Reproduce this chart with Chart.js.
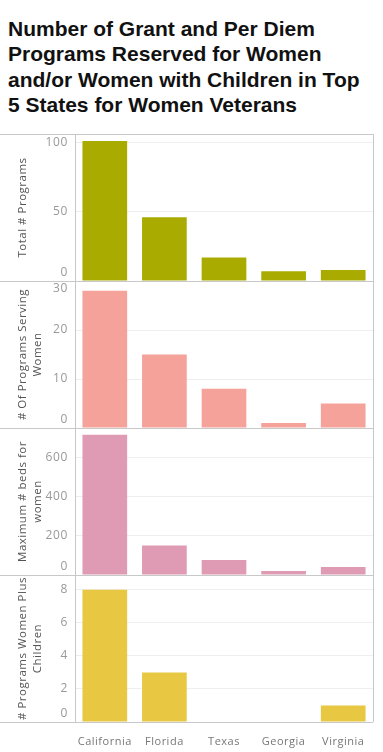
<!DOCTYPE html>
<html>
<head>
<meta charset="utf-8">
<script src="https://cdn.jsdelivr.net/npm/chart.js@4/dist/chart.umd.min.js"></script>
<style>
  html, body { margin: 0; padding: 0; background: #fff; }
  body { width: 383px; height: 752px; position: relative; overflow: hidden; }
  #title { position: absolute; left: 8px; top: 16px; font: bold 21px/25.3px "Liberation Sans", Arial, sans-serif; color: #111; }
  #wrap { position: absolute; left: 0; top: 0; width: 383px; height: 752px; }
</style>
</head>
<body>
<div id="title">Number of Grant and Per Diem<br>Programs Reserved for Women<br>and/or Women with Children in Top<br>5 States for Women Veterans</div>
<div id="wrap"><canvas id="chart"></canvas></div>
<script>
// data
const states = ['California', 'Florida', 'Texas', 'Georgia', 'Virginia'];
const totalPrograms = [101, 46, 17, 7, 8];
const womenPrograms = [28, 15, 8, 1, 5];
const maxBeds = [715, 150, 77, 20, 41];
const womenChildren = [8, 3, 0, 0, 1];

const totalTicks = [0, 50, 100];
const womenTicks = [0, 10, 20, 30];
const bedsTicks = [0, 200, 400, 600];
const childTicks = [0, 2, 4, 6, 8];

const FONT = '"Open Sans", "Noto Sans", sans-serif';
const rowIds = ['yTotal', 'yWomen', 'yBeds', 'yChild'];

// one left axis per row, stacked on top of each other
const rowAxis = (title, max, ticks, weight) => ({
  type: 'linear',
  position: 'left',
  stack: 'rows',
  stackWeight: 1,
  weight: weight,
  min: 0,
  max: max,
  afterBuildTicks: s => { s.ticks = ticks.map(v => ({ value: v })); },
  afterFit: s => { s.width = 75; },
  grid: { color: '#eeeeee', drawTicks: false },
  border: { display: false },
  ticks: { display: false },
  title: {
    display: true,
    text: title,
    color: '#555',
    font: { family: FONT, size: 11.5, lineHeight: 1.3 },
    padding: { top: 15.5, bottom: 0 }
  }
});

// frame lines + tick labels kept inside each row (like Tableau does)
const framePlugin = {
  id: 'frame',
  beforeDraw(chart) {
    chart.ctx.letterSpacing = '0.5px';
  },
  afterDatasetsDraw(chart) {
    const { ctx, chartArea } = chart;
    const rows = rowIds.map(id => chart.scales[id]).sort((a, b) => a.top - b.top);
    ctx.save();
    ctx.strokeStyle = '#c8c8c8';
    ctx.lineWidth = 1;
    ctx.beginPath();
    const ys = [rows[0].top].concat(rows.map(s => s.bottom));
    ys.forEach(y => {
      const py = Math.round(y) + 0.5;
      ctx.moveTo(0, py);
      ctx.lineTo(chartArea.right, py);
    });
    const lx = Math.round(chartArea.left) + 0.5;
    const rx = Math.round(chartArea.right) + 0.5;
    ctx.moveTo(lx, chartArea.top);
    ctx.lineTo(lx, chartArea.bottom);
    ctx.moveTo(rx, chartArea.top);
    ctx.lineTo(rx, chartArea.bottom);
    ctx.stroke();

    ctx.fillStyle = '#999';
    ctx.font = '12px ' + FONT;
    ctx.letterSpacing = '0.6px';
    ctx.textAlign = 'right';
    ctx.textBaseline = 'middle';
    rows.forEach(s => {
      s.ticks.forEach(t => {
        let y = s.getPixelForValue(t.value);
        y = Math.min(Math.max(y, s.top + 8), s.bottom - 8.5);
        ctx.fillText(String(t.value), chartArea.left - 7, y);
      });
    });
    ctx.restore();
  }
};

const barSet = (data, axis, color) => ({
  data: data,
  yAxisID: axis,
  backgroundColor: color,
  grouped: false,
  categoryPercentage: 0.75,
  barPercentage: 1
});

new Chart(document.getElementById('chart'), {
  type: 'bar',
  data: {
    labels: states,
    datasets: [
      barSet(totalPrograms, 'yTotal', '#a9ab00'),
      barSet(womenPrograms, 'yWomen', '#f5a29b'),
      barSet(maxBeds, 'yBeds', '#e09bb4'),
      barSet(womenChildren, 'yChild', '#e8c843')
    ]
  },
  options: {
    responsive: true,
    maintainAspectRatio: false,
    animation: false,
    layout: { padding: { top: 134, right: 10, left: 0, bottom: 0 } },
    plugins: { legend: { display: false }, tooltip: { enabled: false } },
    scales: {
      x: {
        type: 'category',
        position: 'bottom',
        grid: { display: false },
        border: { display: false },
        ticks: { color: '#777', font: { family: FONT, size: 11 }, padding: 5, maxRotation: 0, autoSkip: false },
        afterFit: s => { s.height = 30; }
      },
      yTotal: rowAxis('Total # Programs', 106, totalTicks, 4),
      yWomen: rowAxis(['# Of Programs Serving', 'Women'], 30, womenTicks, 3),
      yBeds: rowAxis(['Maximum # beds for', 'women'], 750, bedsTicks, 2),
      yChild: rowAxis(['# Programs Women Plus', 'Children'], 8.9, childTicks, 1)
    }
  },
  plugins: [framePlugin]
});
</script>
</body>
</html>
